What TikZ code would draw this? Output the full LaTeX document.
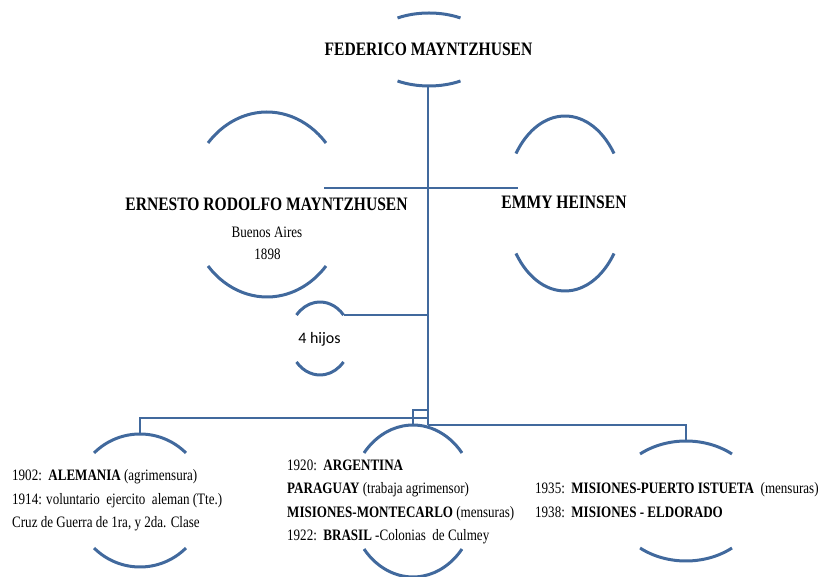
\documentclass[tikz,border=0pt]{standalone}
\usepackage{fontspec}
\setmainfont{Liberation Serif}[FakeStretch=0.82]
\newfontfamily\hijosfont{Carlito}
\usetikzlibrary{positioning}
\definecolor{line-blue}{HTML}{41699D}

% top and bottom arcs of an oval: centre, x radius, y radius, gap angle
\newcommand{\ovalarcs}[4]{%
  \draw[arcline] ([shift={(#4:#2 and #3)}]#1)
    arc[start angle=#4, end angle=180-#4, x radius=#2, y radius=#3];
  \draw[arcline] ([shift={(180+#4:#2 and #3)}]#1)
    arc[start angle=180+#4, end angle=360-#4, x radius=#2, y radius=#3];}

\begin{document}
\begin{tikzpicture}[x=1pt, y=1pt,
    arcline/.style={line-blue, line width=3pt},
    branch/.style={line-blue, line width=2.8pt},
    personname/.style={font=\fontsize{19}{22}\selectfont\bfseries, inner sep=0pt},
    lifetext/.style={font=\fontsize{15.9}{23.5}\selectfont, align=left, inner sep=0pt}]
  \useasboundingbox (0,0) rectangle (826,577);
  % ovals
  \coordinate (fed-c) at (429,527.5);
  \coordinate (ern-c) at (267,372.5);
  \coordinate (emmy-c) at (565,373.5);
  \coordinate (hijos-c) at (320,238.5);
  \coordinate (left-c) at (140,76.5);
  \coordinate (mid-c) at (413,76);
  \coordinate (right-c) at (686,76);
  \ovalarcs{fed-c}{62.4}{36.5}{59.7}
  \ovalarcs{ern-c}{79}{92.5}{41.7}
  \ovalarcs{emmy-c}{59.7}{87.5}{34.8}
  \ovalarcs{hijos-c}{30.7}{36.5}{40}
  \ovalarcs{left-c}{65.7}{66.5}{45.6}
  \ovalarcs{mid-c}{63.2}{76}{39.2}
  \ovalarcs{right-c}{74}{60}{51.6}
  % texts
  \node[personname] (fed) at (428.5,528) {FEDERICO MAYNTZHUSEN};
  \node[personname] (ern) at (266.5,373) {ERNESTO RODOLFO MAYNTZHUSEN};
  \node[lifetext] (ern-city) at (267,345) {Buenos Aires};
  \node[lifetext] (ern-year) at (267.5,323) {1898};
  \node[personname] (emmy) at (564,375) {EMMY HEINSEN};
  \node[font=\hijosfont\fontsize{16}{18}\selectfont, inner sep=0pt] (hijos) at (319.5,238) {4 hijos};
  \node[lifetext, anchor=west] (alemania) at (12,76.5)
    {1902:\ \ \textbf{ALEMANIA} (agrimensura)\\
     1914: voluntario\ \ ejercito\ \ aleman (Tte.)\\
     Cruz de Guerra de 1ra, y 2da. Clase};
  \node[lifetext, anchor=west] (argentina) at (287,75)
    {1920:\ \ \textbf{ARGENTINA}\\
     \textbf{PARAGUAY} (trabaja agrimensor)\\
     \textbf{MISIONES-MONTECARLO} (mensuras)\\
     1922:\ \ \textbf{BRASIL} -Colonias\ \ de Culmey};
  \node[lifetext, anchor=west] (misiones) at (535,77)
    {1935:\ \ \textbf{MISIONES-PUERTO ISTUETA}\ \ (mensuras)\\
     1938:\ \ \textbf{MISIONES - ELDORADO}};
  % connectors
  \coordinate (fed-s) at (428,491);
  \coordinate (fork) at (428,152);
  \coordinate (fork-mid) at (428,167);
  \coordinate (fork-left) at (428,159);
  \coordinate (ern-e) at (324,389);
  \coordinate (emmy-w) at (518,389);
  \coordinate (hijos-ne) at (343.5,262);
  \coordinate (left-n) at (140,143);
  \coordinate (mid-n) at (413,152);
  \coordinate (right-n) at (686,136);
  \draw[branch] (fed-s) -- (fork);
  \draw[branch] (ern-e) -- (emmy-w);
  \draw[branch] (hijos-ne) -- (hijos-ne -| fork);
  \draw[branch] (fork-mid) -| (mid-n);
  \draw[branch] (fork-left) -| (left-n);
  \draw[branch] (fork) -| (right-n);
\end{tikzpicture}
\end{document}
